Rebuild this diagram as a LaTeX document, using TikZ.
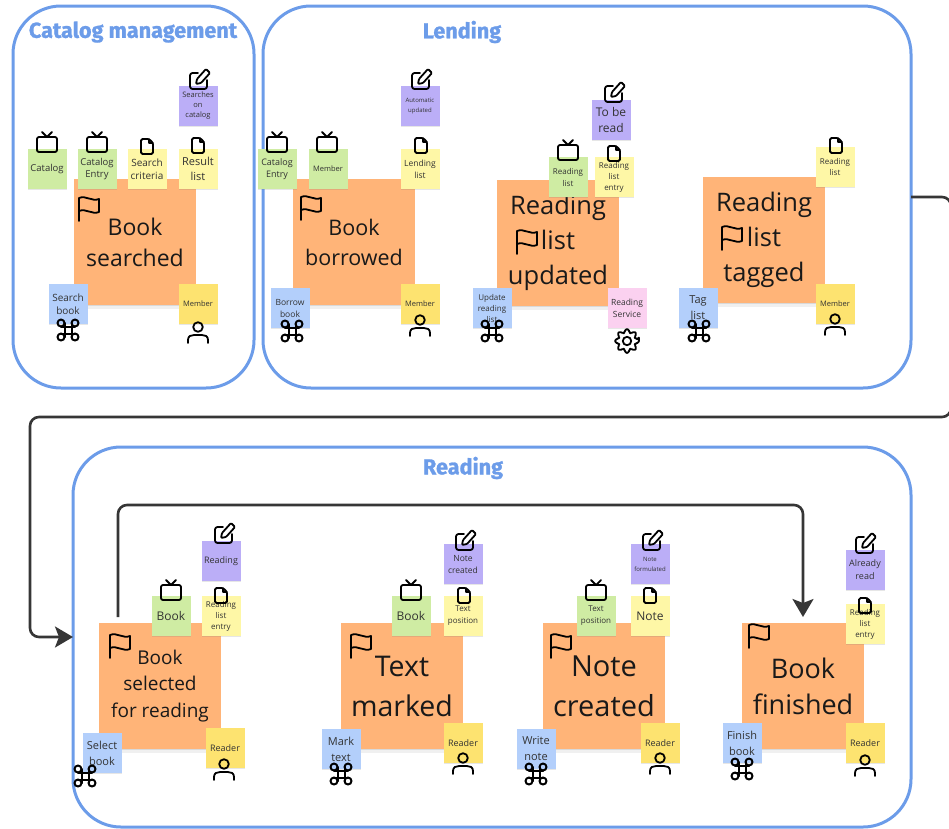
\documentclass[tikz,border=0pt]{standalone}
\usepackage{fontspec}
\setmainfont{Open Sans}
\newfontfamily\titlefont[BoldFeatures={FakeBold=1.2}]{Fira Sans}
\usetikzlibrary{arrows.meta,shadows}
\definecolor{framecol}{HTML}{6C9CE9}
\definecolor{flowcol}{HTML}{363636}
\definecolor{eventcol}{HTML}{FFB478}
\definecolor{entitycol}{HTML}{CFECA3}
\definecolor{docucol}{HTML}{FEF7A6}
\definecolor{statecol}{HTML}{BBAEF7}
\definecolor{commandcol}{HTML}{B3CFFB}
\definecolor{actorcol}{HTML}{FDE370}
\definecolor{servicecol}{HTML}{FBD1F0}
\tikzset{
    txt/.style 2 args = {font = \fontsize{#1}{#2}\selectfont},
    sticky/.style = {minimum width = 39, minimum height = 40, inner sep = 0, outer sep = 0, align = center, text = black!80,
        drop shadow = {shadow xshift = 0pt, shadow yshift = -1pt, opacity = 0.2}},
    event/.style = {sticky, fill = eventcol, minimum width = 122, minimum height = 126, text = black!90,
        drop shadow = {shadow xshift = 0pt, shadow yshift = -4pt, opacity = 0.12}},
    entity/.style = {sticky, fill = entitycol},
    docu/.style = {sticky, fill = docucol},
    state/.style = {sticky, fill = statecol},
    command/.style = {sticky, fill = commandcol},
    actor/.style = {sticky, fill = actorcol},
    service/.style = {sticky, fill = servicecol},
    frame/.style = {draw = framecol, line width = 3, rounded corners = 48, inner sep = 0, outer sep = 0},
    heading/.style = {text = framecol, font = \titlefont\bfseries\fontsize{21.6}{24}\selectfont},
    flow/.style = {draw = flowcol, line width = 2.6, rounded corners = 9},
    icon/.style = {line width = 1.8, line cap = round, line join = round},
    tvicon/.pic = {
        \draw[icon, rounded corners = 2] (-10,-7) rectangle (10,8);
        \draw[icon] (-5,-12) -- (0,-7) -- (5,-12);
    },
    docicon/.pic = {
        \draw[icon, rounded corners = 1.5] (2,-8) -- (-6,-8) -- (-6,7) -- (6,7) -- (6,-4) -- cycle;
        \draw[icon] (2,-8) -- (2,-4) -- (6,-4);
    },
    editicon/.pic = {
        \draw[icon, rounded corners = 2.5] (-1,-7) -- (-9,-7) -- (-9,9) -- (8,9) -- (8,0);
        \draw[icon, rounded corners = 1] (-3,4) -- (-2,-1) -- (7,-11) -- (11,-7) -- (2,3) -- cycle;
    },
    flagicon/.pic = {
        \draw[icon] (-10,12) -- (-10,-11) .. controls (-3,-14) and (3,-7) .. (10,-10) -- (10,3) .. controls (3,6) and (-3,-1) .. (-10,2);
    },
    cmdicon/.pic = {
        \draw[icon, line width = 2] (-3.5,-7) -- (-3.5,7) (3.5,-7) -- (3.5,7) (-7,-3.5) -- (7,-3.5) (-7,3.5) -- (7,3.5);
        \draw[icon, line width = 2] (-7,-7) circle[radius = 3.5] (7,-7) circle[radius = 3.5] (-7,7) circle[radius = 3.5] (7,7) circle[radius = 3.5];
    },
    usericon/.pic = {
        \draw[icon] (0,-6) circle[radius = 4.8];
        \draw[icon] (-10,10) -- (-10,7) .. controls (-10,3) and (-7,2) .. (-4,2) -- (4,2) .. controls (7,2) and (10,3) .. (10,7) -- (10,10);
    },
    gearicon/.pic = {
        \draw[icon, rounded corners = 1.5] (-9:12) \foreach \a in {0,45,...,315} { -- (\a-9:12) -- (\a+9:12) -- (\a+15:8.5) -- (\a+30:8.5) } -- cycle;
        \draw[icon] (0,0) circle[radius = 4.2];
    }
}
\begin{document}
\begin{tikzpicture}[x = 1pt, y = -1pt]
    \useasboundingbox (0,0) rectangle (949,828);
    % frames
    \node[frame, minimum width = 241, minimum height = 382] (catalogframe) at (133.5,197) {};
    \node[frame, minimum width = 648, minimum height = 382] (lendingframe) at (587,197) {};
    \node[frame, minimum width = 838, minimum height = 380] (readingframe) at (492,637) {};
    \node[heading] (catalogtitle) at (133,32) {Catalog management};
    \node[heading] (lendingtitle) at (462,32) {Lending};
    \node[heading] (readingtitle) at (463,468) {Reading};
    % catalog management
    \node[event, txt = {23}{31}] (booksearched) at (135,242) {Book\\searched};
    \node[entity, txt = {9.5}{12}] (catalog) at (47,169) {Catalog};
    \node[entity, txt = {9.5}{12.5}] (catalogentry) at (97,169) {Catalog\\Entry};
    \node[docu, txt = {10}{13.5}] (searchcriteria) at (147,169) {Search\\criteria};
    \node[docu, txt = {11}{15}] (resultlist) at (198,169) {Result\\list};
    \node[state, txt = {7.5}{10}] (searches) at (198,106) {Searches\\on\\catalog};
    \node[command, txt = {10}{13.5}] (searchbook) at (68,304) {Search\\book};
    \node[actor, txt = {7.5}{10}] (membera) at (198,304) {Member};
    \pic at (47,144) {tvicon};
    \pic at (97,144) {tvicon};
    \pic at (147,147) {docicon};
    \pic at (198,146) {docicon};
    \pic at (199,80) {editicon};
    \pic at (89,209) {flagicon};
    \pic at (68,330) {cmdicon};
    \pic at (198,333) {usericon};
    % lending
    \node[event, txt = {21.5}{30}] (bookborrowed) at (354,242) {Book\\borrowed};
    \node[entity, txt = {9}{12.5}] (catalogentryb) at (277,169) {Catalog\\Entry};
    \node[entity, txt = {7.5}{10}] (memberb) at (328,169) {Member};
    \node[docu, txt = {8.5}{12}] (lendinglist) at (420,169) {Lending\\list};
    \node[state, txt = {6}{10}] (automatic) at (420,106) {Automatic\\updated};
    \node[command, txt = {8.5}{12}] (borrowbook) at (290,308) {Borrow\\book};
    \node[actor, txt = {7.5}{10}] (memberc) at (420,304) {Member};
    \pic at (277,144) {tvicon};
    \pic at (327,144) {tvicon};
    \pic at (421,146) {docicon};
    \pic at (421,80) {editicon};
    \pic at (311,208) {flagicon};
    \pic at (292,331) {cmdicon};
    \pic at (420,326) {usericon};
    % reading list updated
    \node[event, txt = {25.5}{35}] (listupdated) at (558,243) {Reading\\list\\updated};
    \node[entity, txt = {8}{12}] (readinglist) at (568,177) {Reading\\list};
    \node[docu, txt = {8}{11}] (listentry) at (614,177) {Reading\\list\\entry};
    \node[state, txt = {12}{16.5}] (toberead) at (611,120) {To be\\read};
    \node[command, txt = {8}{11}] (updatelist) at (492,308) {Update\\reading\\list};
    \node[service, txt = {8.5}{12}] (readingservice) at (627,308) {Reading\\Service};
    \pic at (568,152) {tvicon};
    \pic at (614,154) {docicon};
    \pic at (614,93) {editicon};
    \pic at (527,242) {flagicon};
    \pic at (492,331) {cmdicon};
    \pic at (627,341) {gearicon};
    % reading list tagged
    \node[event, txt = {25.5}{35}] (listtagged) at (764,240) {Reading\\list\\tagged};
    \node[docu, txt = {8}{11}] (readinglistb) at (835,167) {Reading\\list};
    \node[command, txt = {11}{16}] (taglist) at (698,308) {Tag\\list};
    \node[actor, txt = {7.5}{10}] (memberd) at (835,304) {Member};
    \pic at (836,146) {docicon};
    \pic at (732,238) {flagicon};
    \pic at (699,331) {cmdicon};
    \pic at (835,325) {usericon};
    % book selected
    \node[event, txt = {19}{26.5}] (bookselected) at (160,686) {Book\\selected\\for reading};
    \node[entity, txt = {12}{15}] (bookb) at (171,616) {Book};
    \node[docu, txt = {8}{11}] (listentryb) at (221,616) {Reading\\list\\entry};
    \node[state, txt = {9}{12}] (readingstate) at (221,561) {Reading};
    \node[command, txt = {11}{16}] (selectbook) at (102,753) {Select\\book};
    \node[actor, txt = {9}{12}] (readera) at (225,748) {Reader};
    \pic at (171,592) {tvicon};
    \pic at (221,596) {docicon};
    \pic at (224,534) {editicon};
    \pic at (120,646) {flagicon};
    \pic at (85,776) {cmdicon};
    \pic at (224,770) {usericon};
    % text marked
    \node[event, txt = {28.5}{40}] (textmarked) at (402,686) {Text\\marked};
    \node[entity, txt = {12}{15}] (bookc) at (411,616) {Book};
    \node[docu, txt = {8}{12}] (textposition) at (463,616) {Text\\position};
    \node[state, txt = {8.5}{12}] (notecreatedstate) at (463,564) {Note\\created};
    \node[command, txt = {11}{16}] (marktext) at (341,749) {Mark\\text};
    \node[actor, txt = {9}{12}] (readerb) at (463,743) {Reader};
    \pic at (411,592) {tvicon};
    \pic at (464,596) {docicon};
    \pic at (465,541) {editicon};
    \pic at (361,646) {flagicon};
    \pic at (341,774) {cmdicon};
    \pic at (463,764) {usericon};
    % note created
    \node[event, txt = {29}{40}] (notecreated) at (604,686) {Note\\created};
    \node[entity, txt = {8}{12}] (textpositionb) at (596,616) {Text\\position};
    \node[docu, txt = {12}{15}] (note) at (650,616) {Note};
    \node[state, txt = {6}{10}] (noteformulated) at (650,564) {Note\\formulated};
    \node[command, txt = {11}{16}] (writenote) at (536,749) {Write\\note};
    \node[actor, txt = {9}{12}] (readerc) at (660,743) {Reader};
    \pic at (596,592) {tvicon};
    \pic at (650,596) {docicon};
    \pic at (652,541) {editicon};
    \pic at (561,646) {flagicon};
    \pic at (536,774) {cmdicon};
    \pic at (660,764) {usericon};
    % book finished
    \node[event, txt = {27}{36}] (bookfinished) at (803,686) {Book\\finished};
    \node[docu, txt = {8}{11}] (listentryc) at (865,624) {Reading\\list\\entry};
    \node[state, txt = {9}{13}] (alreadyread) at (865,570) {Already\\read};
    \node[command, txt = {11}{16}] (finishbook) at (742,743) {Finish\\book};
    \node[actor, txt = {9}{12}] (readerd) at (865,743) {Reader};
    \pic at (865,606) {docicon};
    \pic at (865,544) {editicon};
    \pic at (759,636) {flagicon};
    \pic at (742,769) {cmdicon};
    \pic at (865,766) {usericon};
    % connectors
    \coordinate (selectedtop) at (118,617);
    \draw[flow, -{Stealth[length = 18, width = 21, inset = 4]}] (lendingframe.east) -- (951,197) -- (951,417) -- (30,417) -- (30,637) -- (readingframe.west);
    \draw[flow, -{Stealth[length = 18, width = 21, inset = 4]}, shorten > = 6] (selectedtop) -- (118,505) -- (803,505) -- (bookfinished.north);
\end{tikzpicture}
\end{document}
